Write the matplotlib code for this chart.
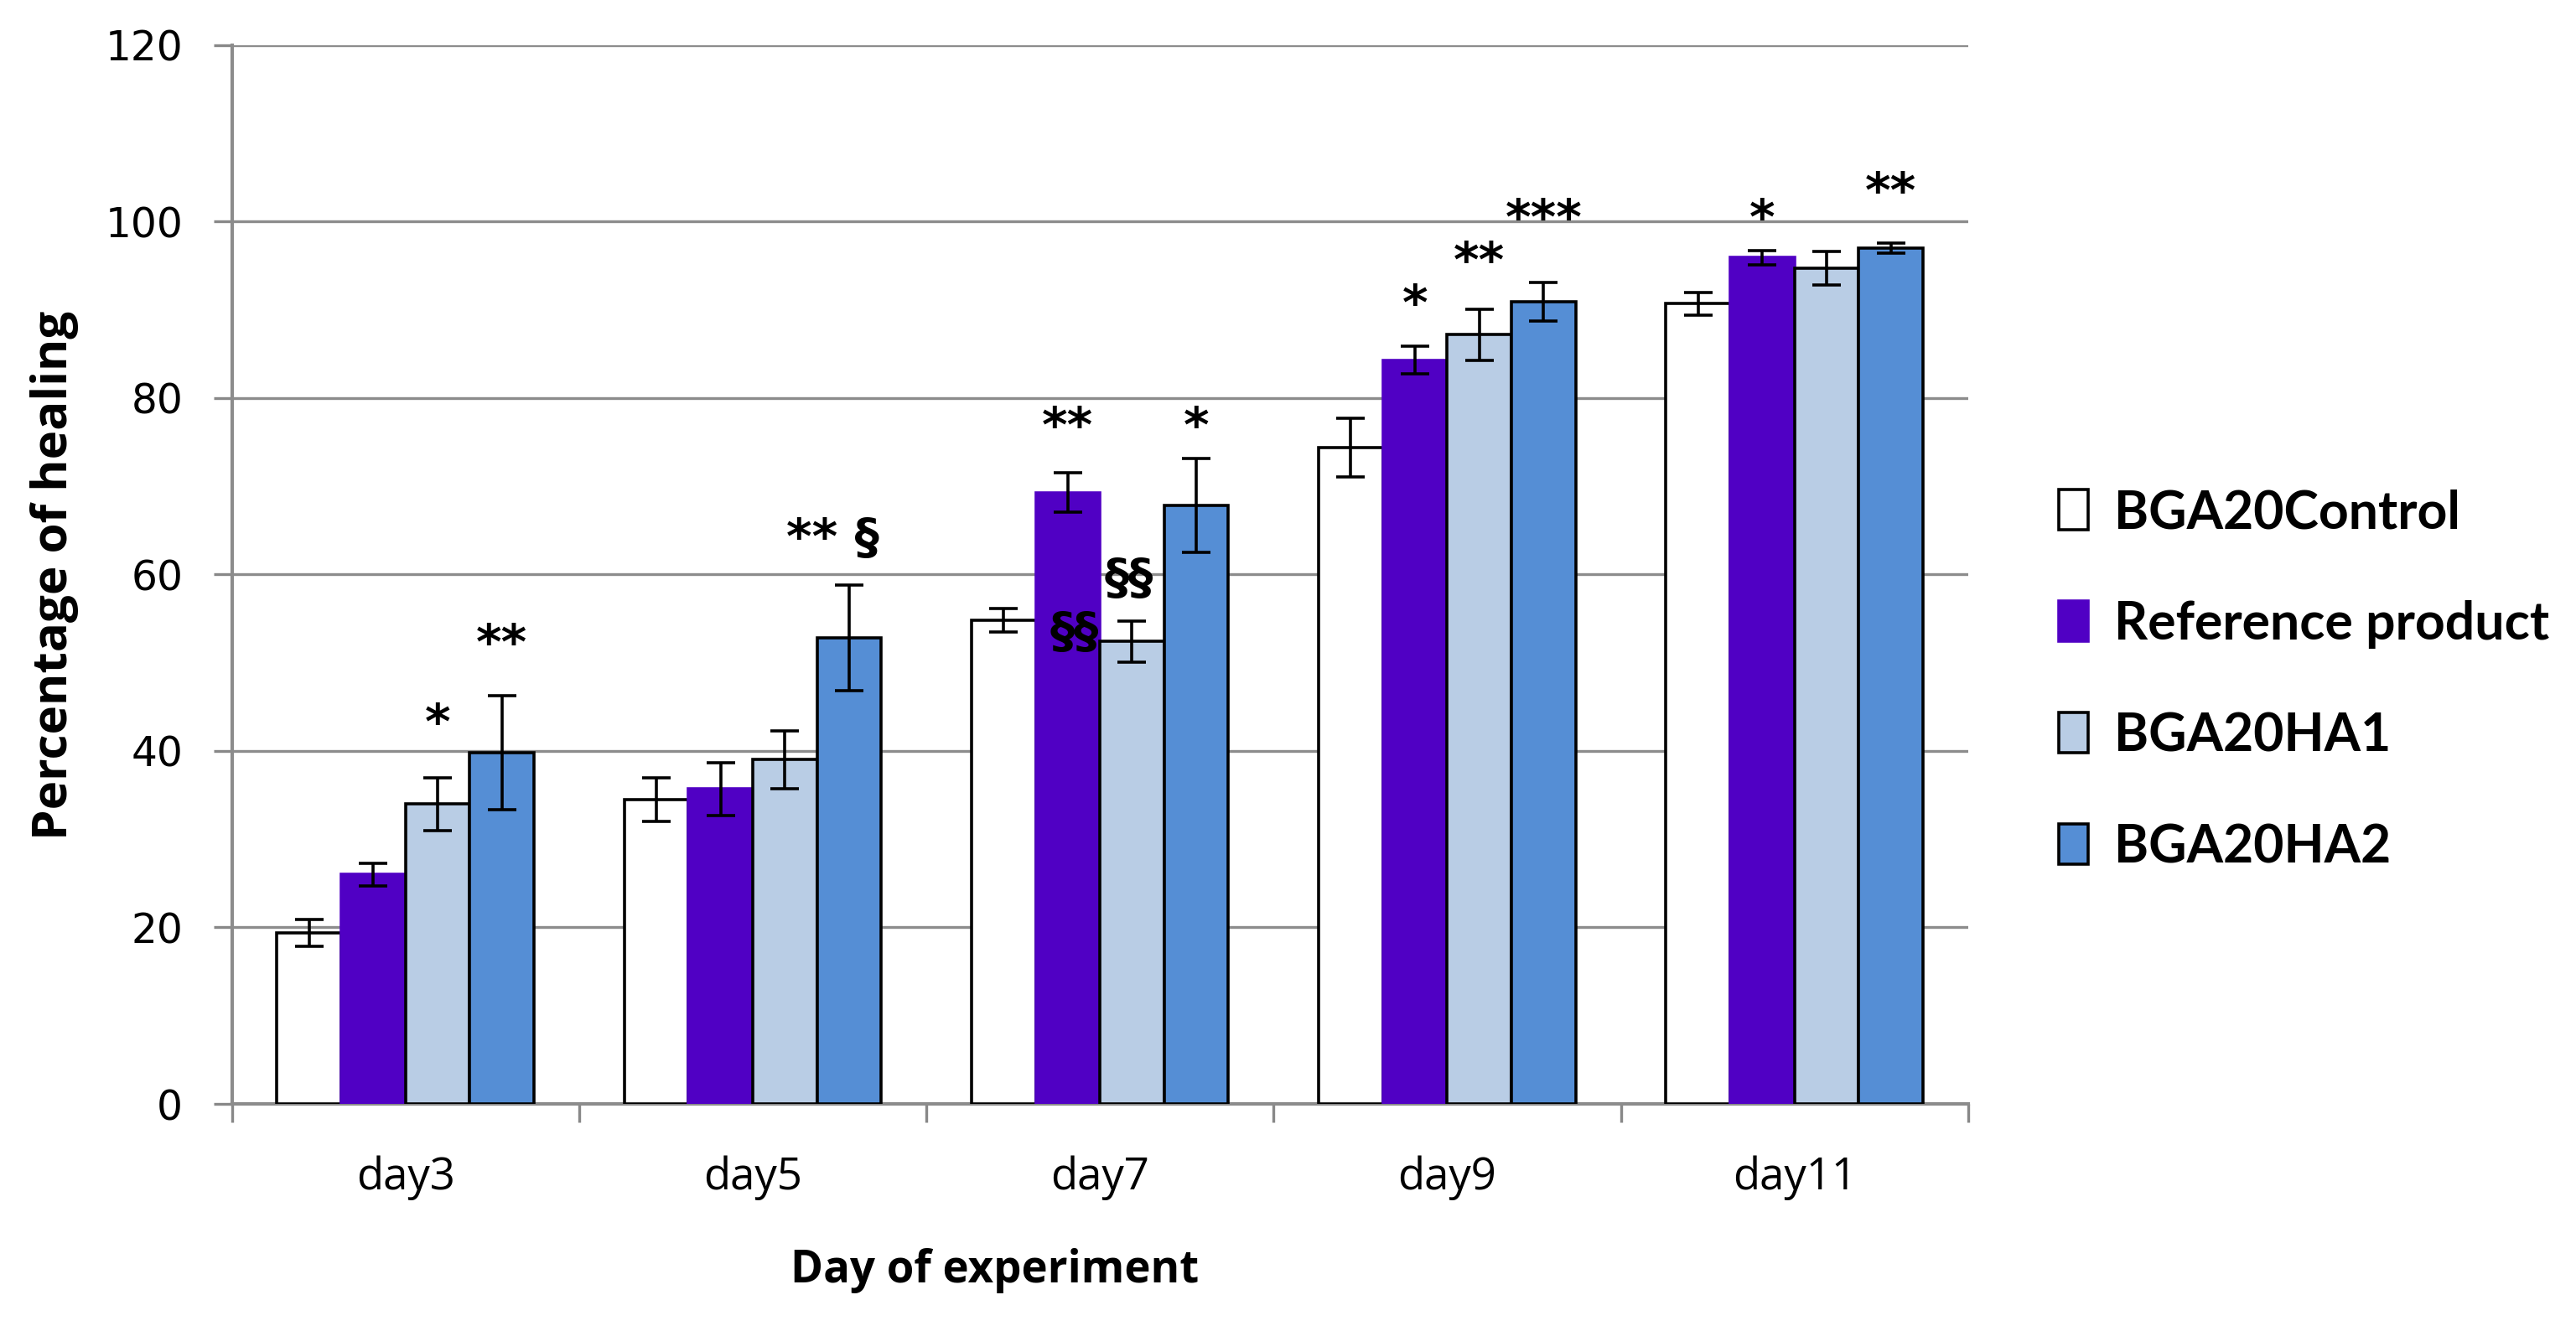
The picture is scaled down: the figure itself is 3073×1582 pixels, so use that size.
import matplotlib

matplotlib.use("Agg")
import matplotlib.pyplot as plt
import numpy as np

DAYS = ["day3", "day5", "day7", "day9", "day11"]
GROUPS = ["BGA20Control", "Reference product", "BGA20HA1", "BGA20HA2"]
COLORS = ["#FFFFFF", "#5000C4", "#B9CDE5", "#558ED5"]
EDGES = ["black", "#5000C4", "black", "black"]

control = [19.4, 34.5, 54.8, 74.4, 90.7]
reference = [26.0, 35.7, 69.3, 84.3, 95.9]
ha1 = [34.0, 39.0, 52.4, 87.2, 94.7]
ha2 = [39.8, 52.8, 67.8, 90.9, 97.0]

control_err = [1.5, 2.5, 1.3, 3.3, 1.3]
reference_err = [1.3, 3.0, 2.2, 1.6, 0.8]
ha1_err = [3.0, 3.3, 2.3, 2.9, 1.9]
ha2_err = [6.5, 6.0, 5.3, 2.2, 0.6]

# (day index, bar slot offset, y, label)
marks = [
    (0, 0.5, 43.0, "*"),
    (0, 1.5, 52.0, "**"),
    (1, 1.25, 64.0, "** §"),
    (2, -0.5, 76.6, "**"),
    (2, 1.5, 76.6, "*"),
    (2, -0.4, 53.3, "§§"),
    (2, 0.45, 59.4, "§§"),
    (3, -0.5, 90.5, "*"),
    (3, 0.5, 95.3, "**"),
    (3, 1.5, 100.2, "***"),
    (4, -0.5, 100.2, "*"),
    (4, 1.5, 103.2, "**"),
]


def main() -> None:
    fig = plt.figure(figsize=(15.365, 7.91), dpi=200)
    ax = fig.add_axes([0.09, 0.1675, 0.674, 0.7985])

    series = [control, reference, ha1, ha2]
    errors = [control_err, reference_err, ha1_err, ha2_err]
    x = np.arange(len(DAYS))
    width = 0.185
    handles = []
    for i, (vals, errs) in enumerate(zip(series, errors)):
        pos = x + (i - 1.5) * width
        bars = ax.bar(pos, vals, width, color=COLORS[i], edgecolor=EDGES[i],
                      linewidth=1.3, label=GROUPS[i], zorder=3)
        ax.errorbar(pos, vals, yerr=errs, fmt="none", ecolor="black",
                    elinewidth=1.3, capsize=6, capthick=1.3, zorder=4)
        handles.append(bars)

    for day, slot, y, label in marks:
        ax.text(day + slot * width, y, label, ha="center", va="center",
                fontsize=21, fontweight="bold", family=["DejaVu Sans"], zorder=5)

    ax.set_xlim(-0.5, 4.5)
    ax.set_ylim(0, 120)
    ax.set_yticks(range(0, 121, 20))
    ax.set_xticks(x)
    ax.set_xticklabels(DAYS, family="Open Sans", fontsize=19)
    ax.set_xticks(np.arange(-0.5, 5.0, 1.0), minor=True)
    ax.tick_params(axis="x", which="major", length=0, pad=22)
    ax.tick_params(axis="x", which="minor", length=8, width=1.2, color="#888888")
    ax.tick_params(axis="y", length=8, width=1.2, color="#888888", labelsize=17.5, pad=13)
    for lab in ax.get_yticklabels():
        lab.set_family("DejaVu Sans")
    ax.yaxis.grid(True, color="#8c8c8c", linewidth=1.2, zorder=0)
    ax.set_axisbelow(True)
    for side in ["top", "right"]:
        ax.spines[side].set_visible(False)
    for side in ["left", "bottom"]:
        ax.spines[side].set_color("#8c8c8c")
        ax.spines[side].set_linewidth(1.5)

    fig.text(0.386, 0.042, "Day of experiment", ha="center", va="center",
             fontsize=19, fontweight="bold", family="Open Sans")
    fig.text(0.021, 0.566, "Percentage of healing", ha="center", va="center",
             rotation=90, fontsize=21, fontweight="bold", family="Open Sans")

    fig.legend(handles=handles, loc="center left", bbox_to_anchor=(0.781, 0.487),
               frameon=False, prop={"family": "Lato", "weight": "bold", "size": 22.5},
               handlelength=0.55, handleheight=0.8, handletextpad=0.5,
               labelspacing=1.2)

    fig.savefig("out.png", dpi=200)
    plt.close(fig)


if __name__ == "__main__":
    main()
